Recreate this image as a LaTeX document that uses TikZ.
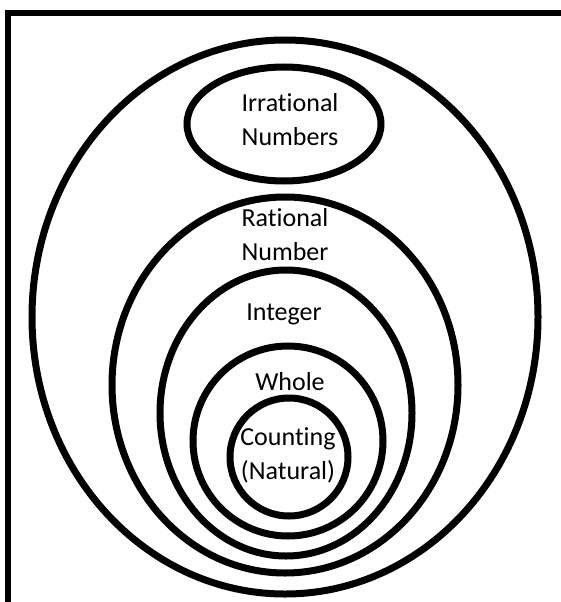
\documentclass[tikz,border=0pt]{standalone}
\usepackage{fontspec}
\setmainfont{Carlito}[Ligatures=NoCommon]
\usetikzlibrary{math}

\begin{document}
\begin{tikzpicture}[x=1pt,y=-1pt,line width=7]
\tikzmath{
\W=561;
\H=602;
}
\tikzset{setlabel/.style={align=center,font=\fontsize{26}{34}\selectfont}}
\useasboundingbox (0,0) rectangle (\W,\H);

% frame, only top and left edges show
\draw[line width=6] (8,\H) -- (8,13) -- (\W,13);

% nested sets
\draw (285,317) ellipse (253 and 277);
\draw (284,124) ellipse (97 and 57);
\draw (285,385) ellipse (173 and 188);
\draw (286,413) ellipse (126 and 143);
\draw (288,441) ellipse (95 and 95);
\draw (289,457) ellipse (59 and 59);

\node[setlabel] (irr) at (290,120) {Irrational\\Numbers};
\node[setlabel] (rat) at (285,235) {Rational\\Number};
\node[setlabel] (int) at (284,314) {Integer};
\node[setlabel] (whole) at (290,382) {Whole};
\node[setlabel] (count) at (288,455) {Counting\\(Natural)};

\end{tikzpicture}
\end{document}
